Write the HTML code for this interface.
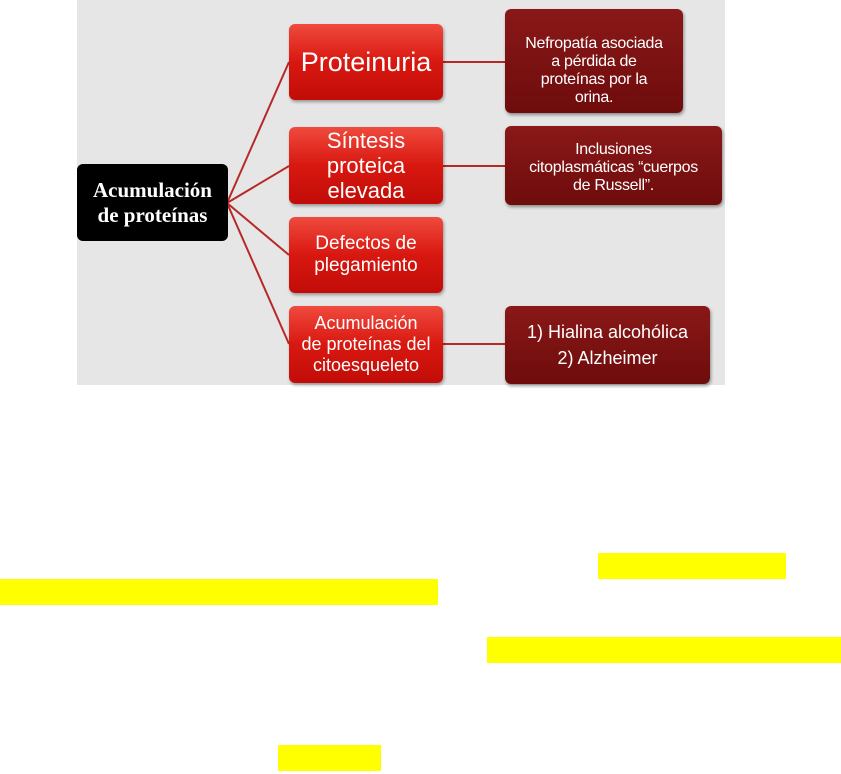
<!DOCTYPE html>
<html><head><meta charset="utf-8"><style>
body{margin:0;width:841px;height:774px;background:#fff;position:relative;overflow:hidden;font-family:"Liberation Sans",sans-serif}
.shot{position:absolute;left:77px;top:0;width:648px;height:385px;background:#e6e6e6}
.b{position:absolute;border-radius:6px;color:#fff;display:flex;align-items:center;justify-content:center;text-align:center;box-sizing:border-box;white-space:nowrap}
.r{background:linear-gradient(#f04a3e,#d81810 50%,#c20c08);font-size:19px;line-height:22px;box-shadow:1px 2px 3px rgba(0,0,0,.35)}
.d{background:linear-gradient(#8a1818,#6e0c0c);font-size:16px;line-height:18px;box-shadow:1px 2px 3px rgba(0,0,0,.4);letter-spacing:-0.3px}
.y{position:absolute;background:#ffff00}
</style></head><body>
<div class="shot"></div>
<svg style="position:absolute;left:0;top:0" width="841" height="400">
<g stroke="#b52a26" stroke-width="2" fill="none">
<path d="M227 203 L289 62"/><path d="M227 203 L289 166"/><path d="M227 203 L289 255"/><path d="M227 203 L289 344"/>
<path d="M443 62 H505"/><path d="M443 166 H505"/><path d="M443 344 H505"/>
</g></svg>
<div class="b" style="left:77px;top:164px;width:151px;height:77px;background:#000;font-family:'Liberation Serif',serif;font-weight:bold;font-size:21px;line-height:25px">Acumulación<br>de proteínas</div>
<div class="b r" style="left:289px;top:24px;width:154px;height:76px;font-size:27px">Proteinuria</div>
<div class="b r" style="left:289px;top:127px;width:154px;height:77px;font-size:22px;line-height:25px">Síntesis<br>proteica<br>elevada</div>
<div class="b r" style="left:289px;top:217px;width:154px;height:76px;line-height:22px">Defectos de<br>plegamiento</div>
<div class="b r" style="left:289px;top:306px;width:154px;height:77px;font-size:18px;line-height:21px">Acumulación<br>de proteínas del<br>citoesqueleto</div>
<div class="b d" style="left:505px;top:9px;width:178px;height:104px;align-items:flex-start;padding-top:26px">Nefropatía asociada<br>a pérdida de<br>proteínas por la<br>orina.</div>
<div class="b d" style="left:505px;top:126px;width:217px;height:79px;align-items:flex-start;padding-top:15px">Inclusiones<br>citoplasmáticas “cuerpos<br>de Russell”.</div>
<div class="b d" style="left:505px;top:306px;width:205px;height:78px;font-size:18px;line-height:26px;letter-spacing:0">1) Hialina alcohólica<br>2) Alzheimer</div>
<div class="y" style="left:598px;top:553px;width:188px;height:26px"></div>
<div class="y" style="left:0;top:579px;width:438px;height:26px"></div>
<div class="y" style="left:487px;top:637px;width:354px;height:26px"></div>
<div class="y" style="left:278px;top:745px;width:103px;height:26px"></div>
</body></html>
